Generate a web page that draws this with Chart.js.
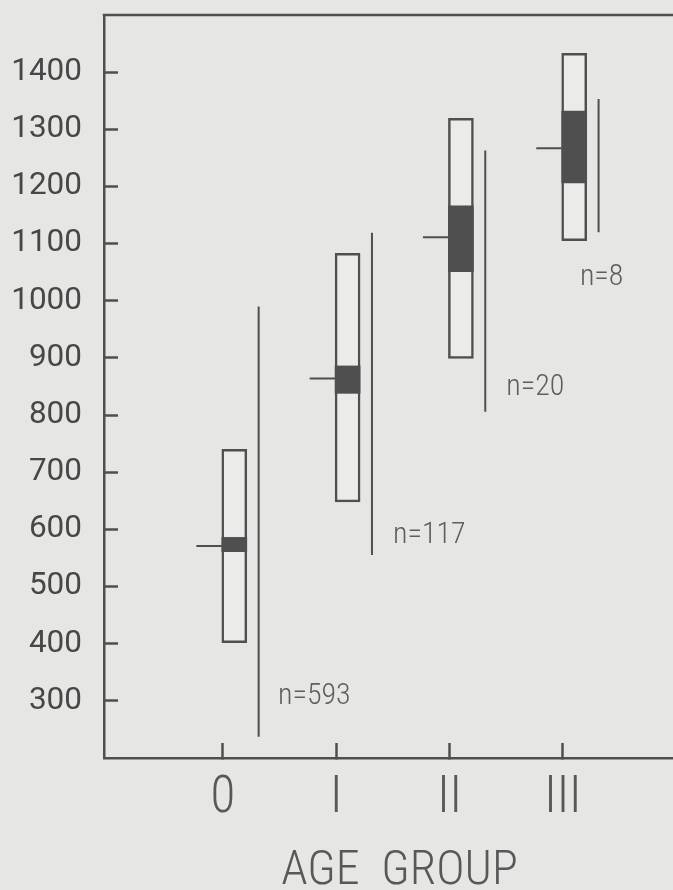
<!DOCTYPE html>
<html><head><meta charset="utf-8">
<script src="https://cdn.jsdelivr.net/npm/chart.js@4.4.1/dist/chart.umd.min.js"></script>
<style>
html,body{margin:0;padding:0;background:#e6e6e4;overflow:hidden;width:673px;height:890px;}
#wrap{position:relative;width:695px;height:890px;}
</style></head><body>
<div id="wrap"><canvas id="c"></canvas></div>
<script>
// ---- data ----
const groups    = ['0', 'I', 'II', 'III'];
const meanVals  = [571, 864, 1111, 1267];
const sdLow     = [402, 648, 899, 1105];
const sdHigh    = [740, 1083, 1319, 1433];
const seLow     = [561, 838, 1051, 1206];
const seHigh    = [586, 886, 1166, 1332];
const rangeMin  = [237, 555, 806, 1120];
const rangeMax  = [990, 1119, 1263, 1353];
const sampleN   = [593, 117, 20, 8];
const yTicks    = [300, 400, 500, 600, 700, 800, 900, 1000, 1100, 1200, 1300, 1400];
const xTitle    = 'AGE  GROUP';

// ---- layout constants (data units along x) ----
const BOX_SHIFT = 0.1, MEAN_FROM = -0.335, MEAN_TO = -0.11, RANGE_DX = 0.215;
const nLabelX = [0.485, 1.50, 2.50, 3.15];
const nLabelY = [308, 590, 848, 1041];

const INK = '#4f4f4f', BG = '#e6e6e4';
const NARROW = 'condensed 300';

const sdData = groups.map((g, i) => ({x: i + BOX_SHIFT, y: [sdLow[i], sdHigh[i]]}));
const seData = groups.map((g, i) => ({x: i + BOX_SHIFT, y: [seLow[i], seHigh[i]]}));
const meanData = groups.flatMap((g, i) => [
  {x: i + BOX_SHIFT + MEAN_FROM, y: meanVals[i]},
  {x: i + BOX_SHIFT + MEAN_TO, y: meanVals[i]},
  {x: i + BOX_SHIFT + 0.5, y: null}
]);
const rangeData = groups.flatMap((g, i) => [
  {x: i + BOX_SHIFT + RANGE_DX, y: rangeMin[i]},
  {x: i + BOX_SHIFT + RANGE_DX, y: rangeMax[i]},
  {x: i + BOX_SHIFT + 0.5, y: null}
]);

const bgPlugin = {
  id: 'bg',
  beforeDraw(chart) {
    const {ctx, width, height} = chart;
    ctx.save(); ctx.fillStyle = BG; ctx.fillRect(0, 0, width, height); ctx.restore();
  },
  afterDraw(chart) {
    const {ctx, chartArea} = chart;
    ctx.save();
    ctx.strokeStyle = INK; ctx.lineWidth = 2.5;
    ctx.beginPath();
    ctx.moveTo(chartArea.left - 1.25, chartArea.top);
    ctx.lineTo(chartArea.right, chartArea.top);
    ctx.stroke();
    // sample size annotations
    const xs = chart.scales.x, ys = chart.scales.y;
    ctx.fillStyle = '#5e5e5e';
    ctx.font = NARROW + ' 30px Roboto, sans-serif';
    ctx.textAlign = 'left'; ctx.textBaseline = 'middle';
    sampleN.forEach((n, i) => {
      ctx.fillText('n=' + n, xs.getPixelForValue(nLabelX[i]), ys.getPixelForValue(nLabelY[i]));
    });
    ctx.restore();
  }
};

new Chart(document.getElementById('c'), {
  type: 'bar',
  data: {
    datasets: [
      {type: 'bar', data: seData, order: 0, grouped: false, barThickness: 25,
       backgroundColor: INK, borderWidth: 0},
      {type: 'bar', data: sdData, order: 1, grouped: false, barThickness: 25,
       backgroundColor: '#ebebea', borderColor: INK, borderWidth: 2.5, borderSkipped: false},
      {type: 'line', data: meanData, order: 2, borderColor: INK, borderWidth: 2,
       pointRadius: 0, spanGaps: false, fill: false},
      {type: 'line', data: rangeData, order: 3, borderColor: INK, borderWidth: 2,
       pointRadius: 0, spanGaps: false, fill: false}
    ]
  },
  options: {
    responsive: true, maintainAspectRatio: false, animation: false,
    layout: {padding: {top: 15, left: 0, right: 0, bottom: 0}},
    plugins: {legend: {display: false}, tooltip: {enabled: false}},
    scales: {
      x: {
        type: 'linear', min: -1.05, max: 4.166, offset: false,
        grid: {display: true, drawOnChartArea: false, offset: false, tickLength: -15,
               tickWidth: 2.5, tickColor: INK},
        border: {display: true, color: INK, width: 2.5},
        afterBuildTicks: s => { s.ticks = groups.map((g, i) => ({value: i})); },
        afterFit: s => { s.height = 132; s.paddingLeft = 0; s.paddingRight = 0; },
        ticks: {autoSkip: false, maxRotation: 0, padding: 26, color: '#585858',
                font: {family: 'Roboto, sans-serif', weight: NARROW, size: 51},
                callback: (v, i) => groups[i]},
        title: {display: true, text: xTitle, color: '#585858', padding: 0,
                font: {family: 'Roboto, sans-serif', weight: NARROW, size: 48, lineHeight: 0.74}}
      },
      y: {
        type: 'linear', min: 200, max: 1500,
        grid: {display: true, drawOnChartArea: false, tickLength: -14, tickWidth: 2.5, tickColor: INK},
        border: {display: true, color: INK, width: 2.5},
        afterBuildTicks: s => { s.ticks = yTicks.map(v => ({value: v})); },
        afterFit: s => { s.width = 104; s.paddingTop = 0; s.paddingBottom = 0; },
        ticks: {padding: 36, color: '#474747', autoSkip: false,
                font: {family: 'Roboto, sans-serif', size: 31.5},
                callback: v => String(v)}
      }
    }
  },
  plugins: [bgPlugin]
});
</script>
</body></html>
